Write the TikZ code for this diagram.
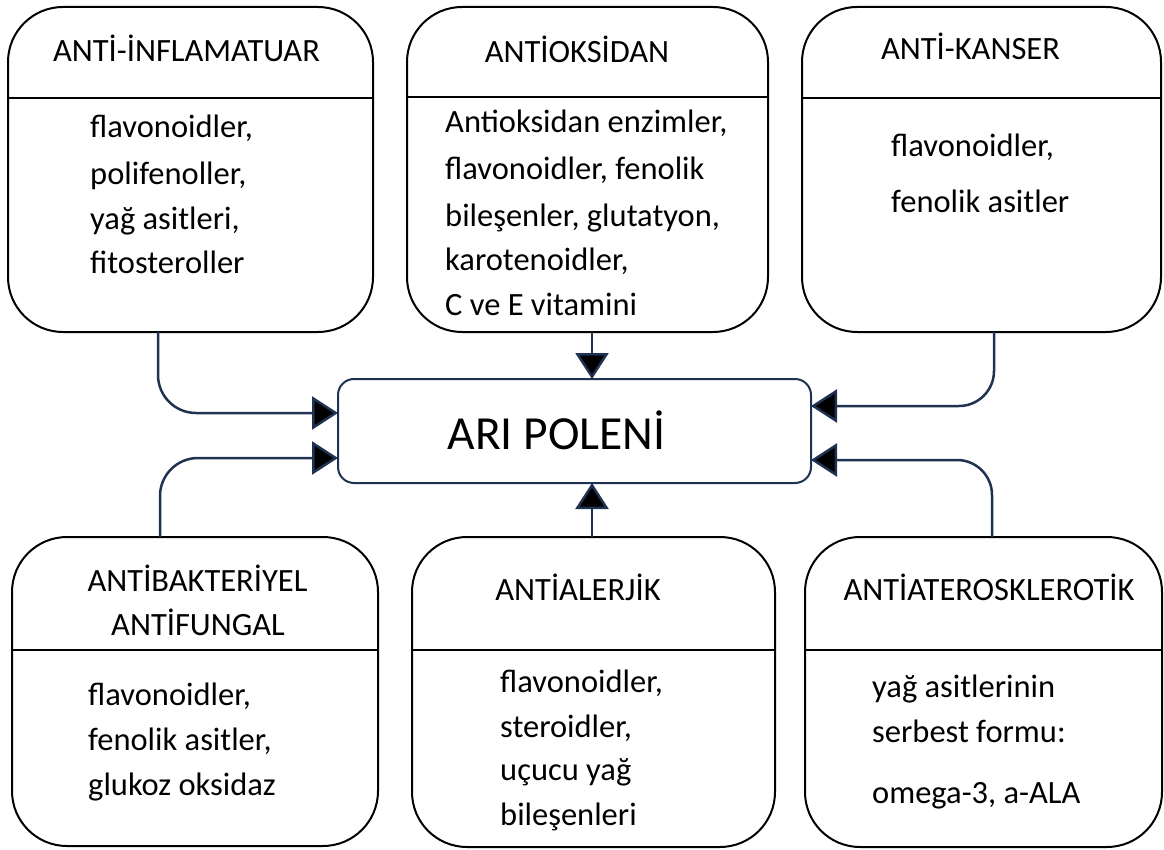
\documentclass[tikz,border=0pt]{standalone}
\usepackage{fontspec}
\setmainfont{Carlito}
\usetikzlibrary{arrows.meta}
\definecolor{navy}{HTML}{1F3251}
\tikzset{
  catbox/.style={draw=black, line width=2pt, rounded corners=55pt, inner sep=0pt, outer sep=0pt},
  divline/.style={draw=black, line width=2pt},
  ttl/.style={font=\fontsize{32.5}{38}\selectfont, anchor=base, inner sep=0pt},
  btxt/.style={font=\fontsize{32.5}{38}\selectfont, anchor=base west, inner sep=0pt},
  centerbox/.style={draw=navy, line width=2pt, rounded corners=16pt, inner sep=0pt, outer sep=0pt, minimum width=473pt, minimum height=104pt},
  conn/.style={draw=navy, line width=2.5pt, rounded corners=38pt, -{Triangle[length=26pt, width=33pt, fill=black]}}
}
\newcommand\bline[4]{\node[btxt] (#1) at (#2,#3) {#4};}
\begin{document}
\begin{tikzpicture}[x=1pt, y=-1pt]
\useasboundingbox (0,0) rectangle (1164,850);
\fill[white] (0,0) rectangle (1164,850);

% category boxes
\node[catbox, minimum width=365pt, minimum height=325pt] (tl) at (190.5,169.5) {};
\node[catbox, minimum width=361pt, minimum height=325pt] (tm) at (587.5,169.5) {};
\node[catbox, minimum width=359pt, minimum height=325pt] (tr) at (981.5,169.5) {};
\node[catbox, minimum width=366pt, minimum height=309pt] (bl) at (195,691.5) {};
\node[catbox, minimum width=363pt, minimum height=310pt] (bm) at (593.5,692) {};
\node[catbox, minimum width=357pt, minimum height=310pt] (br) at (983.5,692) {};

% dividers
\draw[divline] (tl.west |- 0,98) -- (tl.east |- 0,98);
\draw[divline] (tm.west |- 0,97) -- (tm.east |- 0,97);
\draw[divline] (tr.west |- 0,98) -- (tr.east |- 0,98);
\draw[divline] (bl.west |- 0,650) -- (bl.east |- 0,650);
\draw[divline] (bm.west |- 0,650) -- (bm.east |- 0,650);
\draw[divline] (br.west |- 0,650) -- (br.east |- 0,650);

% titles
\node[ttl] (tlt) at (186.5,62) {ANTİ-İNFLAMATUAR};
\node[ttl] (tmt) at (577,63) {ANTİOKSİDAN};
\node[ttl] (trt) at (970.5,60) {ANTİ-KANSER};
\node[ttl] (blt1) at (197.5,591) {ANTİBAKTERİYEL};
\node[ttl] (blt2) at (198,635) {ANTİFUNGAL};
\node[ttl] (bmt) at (578,600) {ANTİALERJİK};
\node[ttl] (brt) at (989,600) {ANTİATEROSKLEROTİK};

% body texts
\bline{tl1}{90}{138}{flavonoidler,}
\bline{tl2}{90}{185}{polifenoller,}
\bline{tl3}{90}{230}{yağ asitleri,}
\bline{tl4}{90}{273}{fitosteroller}

\bline{tm1}{445}{133}{Antioksidan enzimler,}
\bline{tm2}{445}{180}{flavonoidler, fenolik}
\bline{tm3}{445}{227}{bileşenler, glutatyon,}
\bline{tm4}{445}{270}{karotenoidler,}
\bline{tm5}{445}{315}{C ve E vitamini}

\bline{tr1}{891}{157}{flavonoidler,}
\bline{tr2}{891}{213}{fenolik asitler}

\bline{bl1}{88}{705}{flavonoidler,}
\bline{bl2}{88}{750}{fenolik asitler,}
\bline{bl3}{88}{795}{glukoz oksidaz}

\bline{bm1}{500}{692}{flavonoidler,}
\bline{bm2}{500}{737}{steroidler,}
\bline{bm3}{500}{780}{uçucu yağ}
\bline{bm4}{500}{825}{bileşenleri}

\bline{br1}{872}{697}{yağ asitlerinin}
\bline{br2}{872}{742}{serbest formu:}
\bline{br3}{872}{803}{omega-3, a-ALA}

% center
\node[centerbox] (c) at (574.5,431) {};
\node[font=\fontsize{47.5}{56}\selectfont, anchor=base, inner sep=0pt] (ct) at (556.5,449) {ARI POLENİ};

% connectors
\coordinate (ctop) at ([xshift=17.5pt]c.north);
\coordinate (cbot) at ([xshift=17.5pt]c.south);
\draw[conn] ([xshift=-32.5pt]tl.south) |- ([yshift=18pt]c.west);
\draw[conn] ([xshift=-35pt]bl.north) |- ([yshift=-27pt]c.west);
\draw[conn] (tm.south -| ctop) -- (ctop);
\draw[conn] (bm.north -| cbot) -- (cbot);
\draw[conn, rounded corners=35pt] ([xshift=12.5pt]tr.south) |- ([yshift=25pt]c.east);
\draw[conn, rounded corners=35pt] ([xshift=8.5pt]br.north) |- ([yshift=-29pt]c.east);
\end{tikzpicture}
\end{document}
